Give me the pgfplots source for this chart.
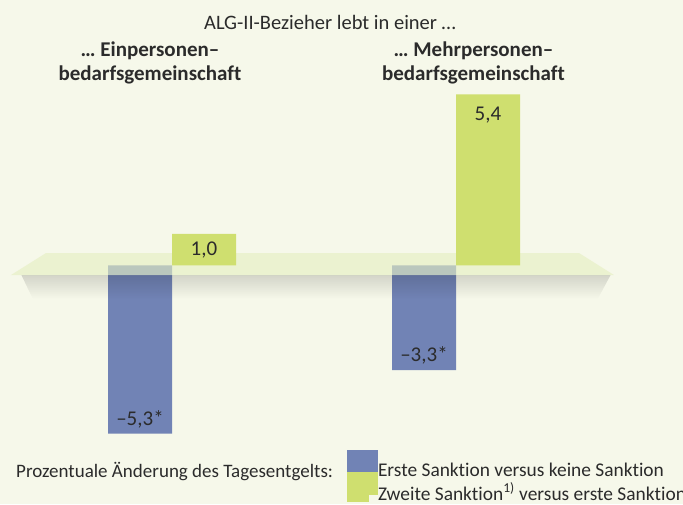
\documentclass[border=0pt]{standalone}
\usepackage{pgfplots}
\pgfplotsset{compat=1.18}
\usepackage{pgfplotstable}
\usetikzlibrary{fadings}
\usepackage{fontspec}
\setmainfont{Carlito}[Ligatures=NoCommon]
\definecolor{bg}{HTML}{F6F8EA}
\definecolor{barblue}{HTML}{7183B5}
\definecolor{bargreen}{HTML}{CFDF6F}
\definecolor{floorc}{HTML}{E6EFC2}
\definecolor{txt}{HTML}{2B2B2B}

\pgfplotstableread{
x y lab sh
0 -5.3 –5,3* 14
1 -3.3 –3,3* 15
}\blueData
\pgfplotstableread{
x y lab sh
0 1.0 1,0 -16
1 5.4 5,4 -21
}\greenData

\begin{document}
\begin{tikzpicture}
\useasboundingbox (0,0) rectangle (683pt,504pt);
\clip (0,0) rectangle (683pt,504pt);
\fill[bg] (0,0) rectangle (683pt,504pt);
\begin{axis}[
  at={(0,0)}, anchor=south west,
  scale only axis, width=683pt, height=504pt,
  hide axis, clip=false,
  xmin=-0.60563, xmax=1.79930,
  ymin=-7.5237, ymax=8.3754,
  ybar, bar width=0.22535,
  point meta=explicit symbolic,
  legend style={at={(rel axis cs:0.50805,0.10714)}, anchor=north west,
    draw=none, fill=none, inner sep=0pt, outer sep=0pt,
    row sep=-5pt, column sep=0pt,
    font=\fontsize{19.4}{22}\selectfont\color{txt},
    nodes={inner sep=0pt, outer sep=0pt, text depth=0pt}},
  legend cell align=left,
  legend image code/.code={\path (0pt,-3pt) rectangle (31pt,20pt); \fill[#1, overlay] (0pt,-10pt) rectangle (22pt,13pt);},
]
\addplot[fill=barblue, draw=none, bar shift=-0.112676,
  nodes near coords,
  visualization depends on={\thisrow{sh}\as\myshift},
  every node near coord/.append style={anchor=center, yshift=\myshift pt,
    font=\fontsize{21}{22}\selectfont, text=txt}]
  table[x=x, y=y, meta=lab] {\blueData};
% floor
\fill[floorc, opacity=0.63] (axis cs:-0.5669,-0.30) -- (axis cs:1.5563,-0.30)
  -- (axis cs:1.4331,0.394) -- (axis cs:-0.4437,0.394) -- cycle;
% shadow
\fill[black, opacity=0.14, path fading=south] (axis cs:-0.53,-0.30) -- (axis cs:1.545,-0.30)
  -- (axis cs:1.50,-1.05) -- (axis cs:-0.49,-1.05) -- cycle;
\addplot[fill=bargreen, draw=none, bar shift=0.112676,
  nodes near coords,
  visualization depends on={\thisrow{sh}\as\myshift},
  every node near coord/.append style={anchor=center, yshift=\myshift pt,
    font=\fontsize{21}{22}\selectfont, text=txt}]
  table[x=x, y=y, meta=lab] {\greenData};
\legend{Erste Sanktion versus keine Sanktion, Zweite Sanktion\textsuperscript{1)} versus erste Sanktion}
\end{axis}
\begin{scope}[every node/.style={text=txt, inner sep=0pt}]
\node[anchor=base, font=\fontsize{20.5}{22}\selectfont] at (330pt,474pt) {ALG-II-Bezieher lebt in einer …};
\node[anchor=base, font=\bfseries\fontsize{21}{24}\selectfont] at (150pt,447.3pt) {… Einpersonen–};
\node[anchor=base, font=\bfseries\fontsize{21}{24}\selectfont] at (150pt,423pt) {bedarfsgemeinschaft};
\node[anchor=base, font=\bfseries\fontsize{21}{24}\selectfont] at (473.5pt,447.3pt) {… Mehrpersonen–};
\node[anchor=base, font=\bfseries\fontsize{21}{24}\selectfont] at (473.5pt,423pt) {bedarfsgemeinschaft};
\node[anchor=base west, font=\fontsize{19}{22}\selectfont] at (16pt,27pt) {Prozentuale Änderung des Tagesentgelts:};
\end{scope}
\end{tikzpicture}
\end{document}
